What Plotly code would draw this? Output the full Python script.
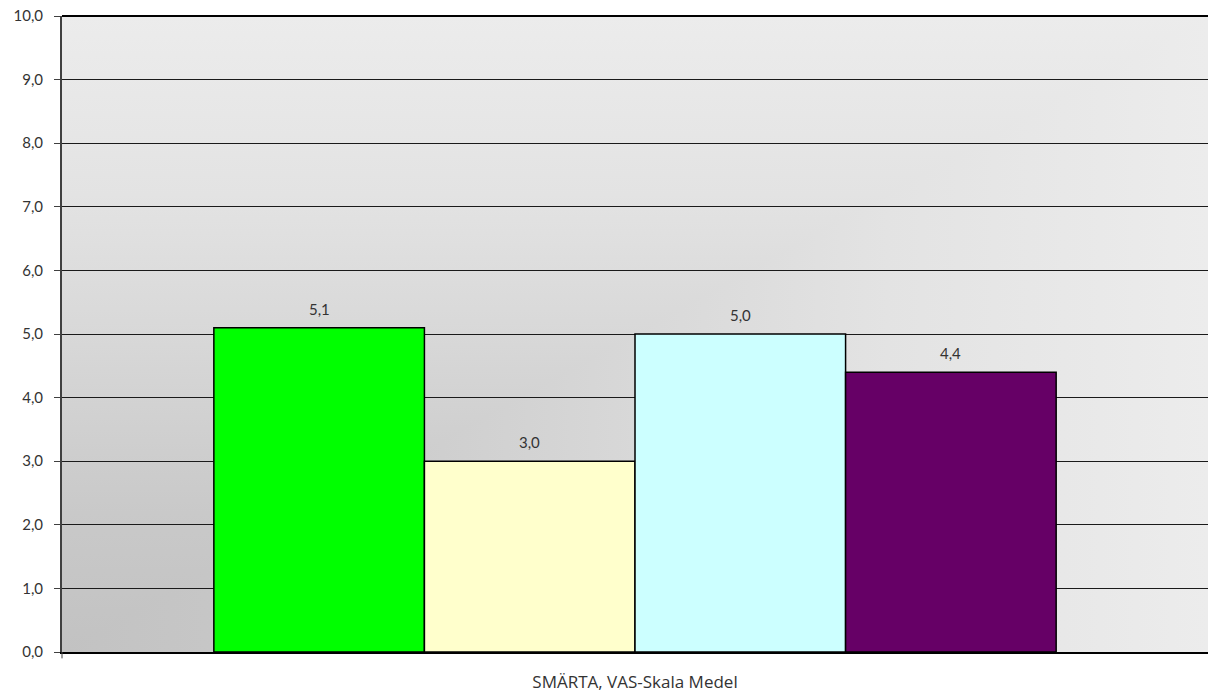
import base64
import plotly.graph_objects as go

# Mean VAS pain score, one category with four groups
category = ["SMÄRTA, VAS-Skala Medel"]
series_names = ["Grupp 1", "Grupp 2", "Grupp 3", "Grupp 4"]
series_values = [5.1, 3.0, 5.0, 4.4]
series_colors = ["#00ff00", "#ffffcc", "#ccffff", "#660066"]
y_ticks = [0, 1, 2, 3, 4, 5, 6, 7, 8, 9, 10]

BARGAP = 0.265
TICK_FONT = "Lato, 'Open Sans', sans-serif"
LABEL_FONT = "'Open Sans', 'Noto Sans', sans-serif"

# Plot-area background: a corner gradient, dark at the lower left, light elsewhere
stops = [(0.0, 194), (0.22, 201), (0.5, 216), (0.72, 227), (1.0, 236)]


def stop_tags():
    return "".join(
        f'<stop offset="{o}" stop-color="rgb({c},{c},{c})"/>' for o, c in stops
    )


svg = (
    '<svg xmlns="http://www.w3.org/2000/svg" width="1146" height="636" '
    'viewBox="0 0 100 100" preserveAspectRatio="none">'
    "<defs>"
    f'<linearGradient id="h" x1="0" y1="0" x2="1" y2="0">{stop_tags()}</linearGradient>'
    f'<linearGradient id="v" x1="0" y1="1" x2="0" y2="0">{stop_tags()}</linearGradient>'
    "</defs>"
    '<rect x="0" y="0" width="100" height="100" fill="url(#h)"/>'
    '<polygon points="0,100 0,0 100,0" fill="url(#v)"/>'
    "</svg>"
)
bg_uri = "data:image/svg+xml;base64," + base64.b64encode(svg.encode()).decode()

fig = go.Figure()
for name, val, col in zip(series_names, series_values, series_colors):
    fig.add_trace(
        go.Bar(
            x=category,
            y=[val],
            name=name,
            marker=dict(color=col, line=dict(color="#000000", width=1.5)),
            hoverinfo="y+name",
        )
    )

# Value labels above each bar (bar centres follow the grouped-bar layout)
n = len(series_values)
bar_w = (1 - BARGAP) / n
annotations = []
for i, val in enumerate(series_values):
    xc = -(1 - BARGAP) / 2 + bar_w * (i + 0.5)
    annotations.append(
        dict(
            x=xc,
            y=val,
            xref="x",
            yref="y",
            text=f"{val:.1f}".replace(".", ","),
            showarrow=False,
            yanchor="middle",
            yshift=19,
            font=dict(family=TICK_FONT, size=15, color="#333333"),
        )
    )

# Top border of the plot area and the small category tick at the lower left
frame_shapes = [
    dict(
        type="line",
        xref="paper",
        yref="paper",
        x0=0,
        x1=1,
        y0=1,
        y1=1,
        line=dict(color="#000000", width=2),
        layer="above",
    ),
    dict(
        type="line",
        xref="paper",
        yref="paper",
        x0=0,
        x1=0,
        y0=0,
        y1=-0.01,
        line=dict(color="#404040", width=1),
        layer="above",
    ),
]

fig.update_layout(
    width=1208,
    height=693,
    margin=dict(l=62, r=0, t=16, b=41),
    paper_bgcolor="#ffffff",
    plot_bgcolor="rgba(0,0,0,0)",
    barmode="group",
    bargap=BARGAP,
    bargroupgap=0,
    showlegend=False,
    separators=", ",
    annotations=annotations,
    shapes=frame_shapes,
    images=[
        dict(
            source=bg_uri,
            xref="paper",
            yref="paper",
            x=0,
            y=1,
            sizex=1,
            sizey=1,
            xanchor="left",
            yanchor="top",
            sizing="stretch",
            layer="below",
        )
    ],
)

fig.update_xaxes(
    type="category",
    range=[-0.5, 0.5],
    automargin=False,
    showgrid=False,
    showline=True,
    mirror=False,
    linecolor="#000000",
    linewidth=2,
    ticks="",
    ticklabelstandoff=14,
    tickfont=dict(family=LABEL_FONT, size=17, color="#333333"),
)

fig.update_yaxes(
    range=[0, 10],
    automargin=False,
    tickvals=y_ticks,
    tickformat=".1f",
    showgrid=True,
    gridcolor="#1a1a1a",
    gridwidth=1,
    zeroline=False,
    showline=True,
    linecolor="#404040",
    linewidth=2,
    ticks="outside",
    ticklen=6,
    tickwidth=1,
    tickcolor="#404040",
    ticklabelstandoff=8,
    tickfont=dict(family=TICK_FONT, size=15, color="#333333"),
)

fig.write_html("out.html")
